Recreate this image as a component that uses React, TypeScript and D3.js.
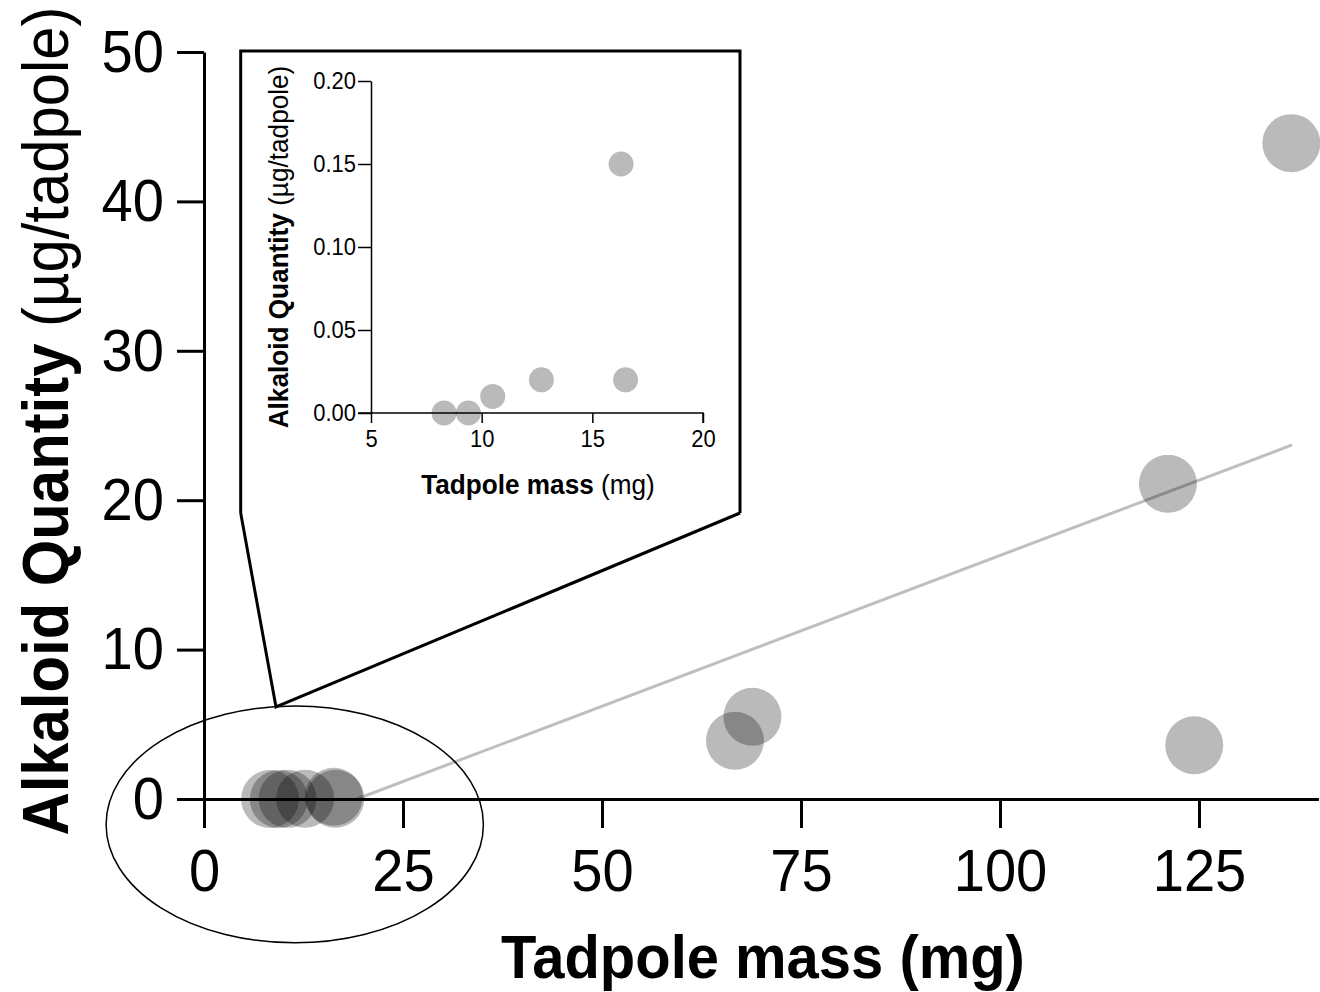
import React, { useEffect, useRef } from "react";
import * as d3 from "d3";

// tadpole mass (mg) vs alkaloid quantity (µg/tadpole)
const massSmall = [8.3, 9.4, 10.5, 12.7, 16.3, 16.5];
const alkSmall = [0.0, 0.0, 0.01, 0.02, 0.15, 0.02];
const massLarge = [66.7, 68.9, 121.1, 124.4, 136.6];
const alkLarge = [3.9, 5.5, 21.1, 3.6, 43.9];

// fitted line end points (mass, quantity)
const fitMass = [19.2, 136.7];
const fitAlk = [0, 23.7];

const mainXTicks = [0, 25, 50, 75, 100, 125];
const mainYTicks = [0, 10, 20, 30, 40, 50];
const insetXTicks = [5, 10, 15, 20];
const insetYTicks = [0, 0.05, 0.1, 0.15, 0.2];

const FONT = "'Liberation Sans', Arial, Helvetica, sans-serif";
const SX = 0.935; // the original font is a bit narrower than Liberation

export default function App() {
  const ref = useRef<SVGSVGElement>(null);

  useEffect(() => {
    const svg = d3.select(ref.current);
    svg.selectAll("*").remove();

    const styleAxis = (g: any, width: number, size: number, left: boolean) => {
      g.selectAll("path, line").attr("stroke", "#000").attr("stroke-width", width);
      g.selectAll("text")
        .attr("fill", "#000")
        .style("font-family", FONT)
        .style("font-size", size + "px")
        .attr("transform", `scale(${SX},1)`);
      if (left) {
        g.selectAll("text").attr("x", function (this: any) {
          return +this.getAttribute("x") / SX;
        });
      }
    };

    // ---------- main chart ----------
    const x = d3.scaleLinear().domain([0, 140]).range([204, 204 + 140 * 7.96]);
    const y = d3.scaleLinear().domain([0, 50]).range([799, 52]);

    const gx = svg
      .append("g")
      .attr("transform", `translate(0,${y(0)})`)
      .call(
        d3.axisBottom(x).tickValues(mainXTicks).tickSize(29).tickSizeOuter(0).tickPadding(20)
      );
    const gy = svg
      .append("g")
      .attr("transform", `translate(${x(0)},0)`)
      .call(
        d3.axisLeft(y).tickValues(mainYTicks).tickSize(27).tickSizeOuter(0).tickPadding(13)
      );
    styleAxis(gx, 3, 60, false);
    styleAxis(gy, 3, 60, true);

    // fitted line
    const fit = fitMass.map((m, i) => [m, fitAlk[i]] as [number, number]);
    svg
      .append("path")
      .datum(fit)
      .attr("fill", "none")
      .attr("stroke", "#000")
      .attr("stroke-opacity", 0.25)
      .attr("stroke-width", 3)
      .attr(
        "d",
        d3
          .line()
          .x((d) => x(d[0]))
          .y((d) => y(d[1]))
      );

    const allMass = massSmall.concat(massLarge);
    const allAlk = alkSmall.concat(alkLarge);
    svg
      .append("g")
      .selectAll("circle")
      .data(allMass)
      .enter()
      .append("circle")
      .attr("cx", (d) => x(d))
      .attr("cy", (d, i) => y(allAlk[i]))
      .attr("r", 29)
      .attr("fill", "#000")
      .attr("fill-opacity", 0.27);

    // ellipse around the small tadpoles
    svg
      .append("ellipse")
      .attr("cx", x(11.4))
      .attr("cy", y(-1.7))
      .attr("rx", x(23.7) - x(0))
      .attr("ry", y(0) - y(7.93))
      .attr("fill", "none")
      .attr("stroke", "#000")
      .attr("stroke-width", 1.5);

    // box and connectors
    svg
      .append("path")
      .attr("d", "M240.7,513 V51 H740 V513 M240.7,513 L276,707 L740,513")
      .attr("fill", "none")
      .attr("stroke", "#000")
      .attr("stroke-width", 3)
      .attr("stroke-linejoin", "miter");

    // main titles
    svg
      .append("text")
      .attr("transform", `translate(763,978) scale(${SX},1)`)
      .attr("text-anchor", "middle")
      .style("font-family", FONT)
      .style("font-size", "62px")
      .style("font-weight", "bold")
      .text("Tadpole mass (mg)");

    const yt = svg
      .append("text")
      .attr("transform", `translate(68,421) rotate(-90) scale(${SX},1)`)
      .attr("text-anchor", "middle")
      .style("font-family", FONT)
      .style("font-size", "64px");
    yt.append("tspan").style("font-weight", "bold").text("Alkaloid Quantity");
    yt.append("tspan").text(" (\u00b5g/tadpole)");

    // ---------- inset ----------
    const ix = d3.scaleLinear().domain([5, 20]).range([371, 703]);
    const iy = d3.scaleLinear().domain([0, 0.2]).range([413, 81]);

    const igx = svg
      .append("g")
      .attr("transform", `translate(0,${iy(0)})`)
      .call(
        d3.axisBottom(ix).tickValues(insetXTicks).tickSize(10).tickSizeOuter(10).tickPadding(7)
      );
    const igy = svg
      .append("g")
      .attr("transform", `translate(${ix(5)},0)`)
      .call(
        d3
          .axisLeft(iy)
          .tickValues(insetYTicks)
          .tickFormat(d3.format(".2f"))
          .tickSize(13)
          .tickSizeOuter(0)
          .tickPadding(2)
      );
    styleAxis(igx, 1.5, 23.5, false);
    styleAxis(igy, 1.5, 23.5, true);
    igx.select("path.domain").attr("d", `M${ix(5) - 13},0H${ix(20)}V10`);

    svg
      .append("g")
      .selectAll("circle")
      .data(massSmall)
      .enter()
      .append("circle")
      .attr("cx", (d) => ix(d))
      .attr("cy", (d, i) => iy(alkSmall[i]))
      .attr("r", 12.5)
      .attr("fill", "#000")
      .attr("fill-opacity", 0.27);

    const ixt = svg
      .append("text")
      .attr("transform", `translate(538,494) scale(${SX},1)`)
      .attr("text-anchor", "middle")
      .style("font-family", FONT)
      .style("font-size", "28px");
    ixt.append("tspan").style("font-weight", "bold").text("Tadpole mass");
    ixt.append("tspan").text(" (mg)");

    const iyt = svg
      .append("text")
      .attr("transform", `translate(288,247) rotate(-90) scale(${SX},1)`)
      .attr("text-anchor", "middle")
      .style("font-family", FONT)
      .style("font-size", "28px");
    iyt.append("tspan").style("font-weight", "bold").text("Alkaloid Quantity");
    iyt.append("tspan").text(" (\u00b5g/tadpole)");
  }, []);

  return (
    <svg
      ref={ref}
      width={1320}
      height={992}
      style={{ position: "absolute", left: 0, top: 0, background: "#fff" }}
    />
  );
}
